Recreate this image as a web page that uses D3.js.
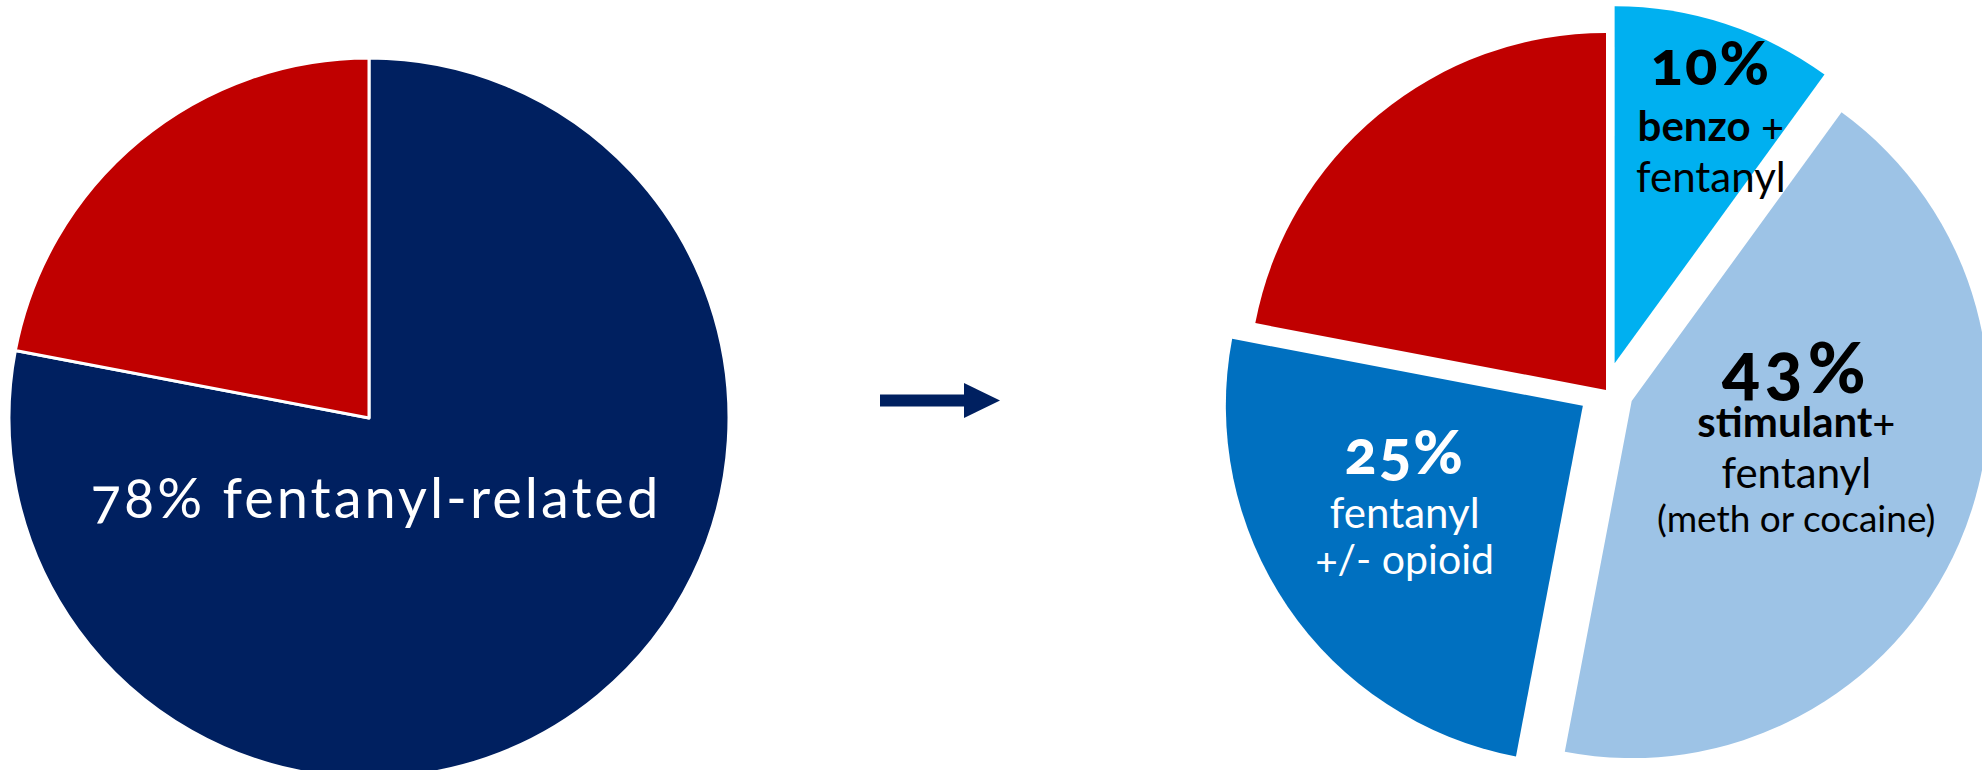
<!DOCTYPE html>
<html>
<head>
<meta charset="utf-8">
<script src="https://cdn.jsdelivr.net/npm/d3@7"></script>
<style>
  html, body { margin: 0; padding: 0; background: #fff; }
  svg { display: block; }
  text { font-family: Lato, "Open Sans", sans-serif; font-variant-numeric: oldstyle-nums; }
</style>
</head>
<body>
<svg width="1982" height="770"></svg>
<script>
// left pie: all overdose deaths
var leftKeys = ["fentanyl", "other"];
var leftValues = [78, 22];
var leftLabel = "78% fentanyl-related";

// right pie: breakdown of the fentanyl-related share
var rightKeys = ["benzo", "stimulant", "opioid", "other"];
var rightValues = [10, 43, 25, 22];
var rightPct = ["10%", "43%", "25%", ""];
// each line: [bold part, regular part]
var rightLines = [
  [["benzo", " +"], ["", "fentanyl"]],
  [["stimulant", "+"], ["", "fentanyl"], ["", "(meth or cocaine)"]],
  [["", "fentanyl"], ["", "+/- opioid"]],
  []
];

var colors = {
  fentanyl: "#002060",
  other: "#C00000",
  benzo: "#00B0F0",
  stimulant: "#9DC3E6",
  opioid: "#0070C0"
};
var textColor = { benzo: "#000", stimulant: "#000", opioid: "#fff" };

var svg = d3.select("svg");

var pie = d3.pie().sort(null).value(function (d) { return d; });

// ---- left pie
var r = 360;
var gl = svg.append("g").attr("transform", "translate(369,418)");
var arcL = d3.arc().innerRadius(0).outerRadius(r);

gl.selectAll("path")
  .data(pie(leftValues))
  .enter()
  .append("path")
  .attr("d", arcL)
  .attr("fill", function (d, i) { return colors[leftKeys[i]]; })
  .attr("stroke", "#fff")
  .attr("stroke-width", 3)
  .attr("stroke-linejoin", "round");

gl.append("text")
  .attr("x", 7)
  .attr("y", 100)
  .attr("text-anchor", "middle")
  .attr("fill", "#fff")
  .attr("font-size", 56)
  .attr("letter-spacing", 3)
  .text(leftLabel);

// ---- arrow
var arrow = svg.append("g").attr("fill", "#002060");
arrow.append("rect").attr("x", 880).attr("y", 394.5).attr("width", 86).attr("height", 12);
arrow.append("path").attr("d", "M964,383 L1000,400.5 L964,418 Z");

// ---- right pie, exploded
var r2 = 357;
var explode = 28;
var gr = svg.append("g").attr("transform", "translate(1606,390)");
var arcR = d3.arc().innerRadius(0).outerRadius(r2);
var labelArc = d3.arc().innerRadius(r2 * 0.6).outerRadius(r2 * 0.6);
// hand-tuned shift from the label arc centroid to the first baseline
var labelNudge = [[30, -75], [-32, -93], [-1, -52], [0, 0]];

var slices = pie(rightValues);

function offset(d, i) {
  if (rightKeys[i] === "other") return [0, 0];
  var a = (d.startAngle + d.endAngle) / 2;
  return [Math.sin(a) * explode, -Math.cos(a) * explode];
}

var sg = gr.selectAll("g.slice")
  .data(slices)
  .enter()
  .append("g")
  .attr("class", "slice")
  .attr("transform", function (d, i) {
    var o = offset(d, i);
    return "translate(" + o[0] + "," + o[1] + ")";
  });

sg.append("path")
  .attr("d", arcR)
  .attr("fill", function (d, i) { return colors[rightKeys[i]]; });

var pctSize = [60, 70, 60, 0];
var pctSpacing = [2, 5, 2, 0];
var lineGap = [[56, 51], [44, 51, 44], [54, 46], []];
var lineSize = [[42, 42], [42, 42, 37], [42, 41], []];

sg.each(function (d, i) {
  if (!rightPct[i]) return;
  var c = labelArc.centroid(d);
  var x = c[0] + labelNudge[i][0];
  var y = c[1] + labelNudge[i][1];
  var g = d3.select(this);
  var fill = textColor[rightKeys[i]];

  g.append("text")
    .attr("x", x)
    .attr("y", y)
    .attr("text-anchor", "middle")
    .attr("fill", fill)
    .attr("font-weight", 900)
    .attr("font-size", pctSize[i])
    .attr("letter-spacing", pctSpacing[i])
    .text(rightPct[i]);

  var yy = y;
  rightLines[i].forEach(function (line, j) {
    yy += lineGap[i][j];
    var t = g.append("text")
      .attr("x", x)
      .attr("y", yy)
      .attr("text-anchor", "middle")
      .attr("fill", fill)
      .attr("font-size", lineSize[i][j]);
    if (line[0]) t.append("tspan").attr("font-weight", 700).text(line[0]);
    t.append("tspan").text(line[1]);
  });
});
</script>
</body>
</html>
